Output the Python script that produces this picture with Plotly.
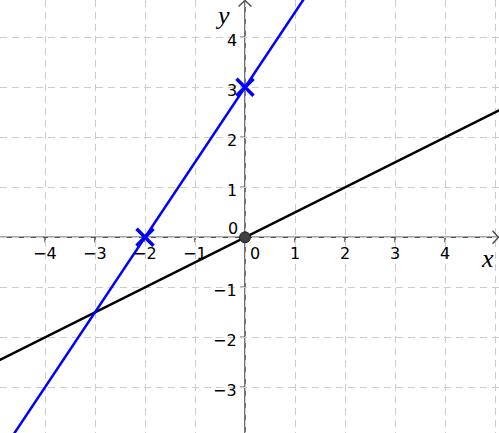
import plotly.graph_objects as go

# linhas (dois pontos cada)
azul_x = [-5.0, 2.0]
azul_y = [-4.5, 6.0]
preta_x = [-5.0, 5.2]
preta_y = [-2.5, 2.6]

# pontos marcados
cruz_x = [-2, 0]
cruz_y = [0, 3]
origem_x = [0]
origem_y = [0]

# rótulos dos eixos
ticks_x = [-4, -3, -2, -1, 1, 2, 3, 4]
ticks_y = [-3, -2, -1, 1, 2, 3, 4]

X_MIN, X_MAX = -4.9, 5.08
Y_MIN, Y_MAX = -3.914, 4.746

CINZA_EIXO = '#505050'
FONTE = 'DejaVu Sans'

fig = go.Figure()

# eixos
fig.add_shape(type='line', x0=X_MIN, x1=X_MAX, y0=0, y1=0,
              line=dict(color=CINZA_EIXO, width=1.6), layer='below')
fig.add_shape(type='line', x0=0, x1=0, y0=Y_MIN, y1=Y_MAX,
              line=dict(color=CINZA_EIXO, width=1.6), layer='below')
# pontas de seta abertas
fig.add_shape(type='path',
              path=f'M {X_MAX-0.13},0.13 L {X_MAX-0.01},0 L {X_MAX-0.13},-0.13',
              line=dict(color=CINZA_EIXO, width=1.5))
fig.add_shape(type='path',
              path=f'M -0.13,{Y_MAX-0.13} L 0,{Y_MAX-0.01} L 0.13,{Y_MAX-0.13}',
              line=dict(color=CINZA_EIXO, width=1.5))

# marcas dos ticks (para baixo no eixo x, para a esquerda no eixo y)
for t in ticks_x:
    fig.add_shape(type='line', x0=t, x1=t, y0=0, y1=-0.1,
                  line=dict(color=CINZA_EIXO, width=1.5), layer='below')
for t in ticks_y:
    fig.add_shape(type='line', x0=0, x1=-0.1, y0=t, y1=t,
                  line=dict(color=CINZA_EIXO, width=1.5), layer='below')

# retas
fig.add_trace(go.Scatter(x=preta_x, y=preta_y, mode='lines',
                         line=dict(color='black', width=2.5), hoverinfo='skip'))
fig.add_trace(go.Scatter(x=azul_x, y=azul_y, mode='lines',
                         line=dict(color='#0000ff', width=2.5), hoverinfo='skip'))

# pontos
fig.add_trace(go.Scatter(x=cruz_x, y=cruz_y, mode='markers',
                         marker=dict(symbol='x-thin', size=17,
                                     line=dict(color='#0000ff', width=3.5))))
fig.add_trace(go.Scatter(x=origem_x, y=origem_y, mode='markers',
                         marker=dict(color='#404040', size=11,
                                     line=dict(color='#202020', width=1))))

# rótulos numéricos
for t in ticks_x:
    fig.add_annotation(x=t, y=-0.33, text=str(t).replace('-', '\u2212'),
                       showarrow=False, font=dict(family=FONTE, size=16, color='black'))
for t in ticks_y:
    fig.add_annotation(x=-0.12, y=t - 0.07, text=str(t).replace('-', '\u2212'),
                       showarrow=False, xanchor='right',
                       font=dict(family=FONTE, size=16, color='black'))
fig.add_annotation(x=0.2, y=-0.33, text='0', showarrow=False,
                   font=dict(family=FONTE, size=16, color='black'))
fig.add_annotation(x=-0.24, y=0.17, text='0', showarrow=False,
                   font=dict(family=FONTE, size=16, color='black'))

# nomes dos eixos
fig.add_annotation(x=4.84, y=-0.42, text='<i>x</i>', showarrow=False,
                   font=dict(family='Liberation Serif', size=26, color='black'))
fig.add_annotation(x=-0.46, y=4.44, text='<i>y</i>', showarrow=False,
                   font=dict(family='Liberation Serif', size=26, color='black'))

grade = dict(showgrid=True, gridcolor='#cccccc', gridwidth=1, griddash='7px,5px',
             dtick=1, tick0=0, zeroline=False, showticklabels=False,
             showline=False, ticks='', fixedrange=True)
fig.update_xaxes(range=[X_MIN, X_MAX], **grade)
fig.update_yaxes(range=[Y_MIN, Y_MAX], **grade)

fig.update_layout(
    width=499, height=433,
    margin=dict(l=0, r=0, t=0, b=0),
    plot_bgcolor='white', paper_bgcolor='white',
    showlegend=False,
)

fig.write_html('out.html', config={'displayModeBar': False},
               post_script="document.body.style.margin='0';"
                           "document.body.style.overflow='hidden';")
